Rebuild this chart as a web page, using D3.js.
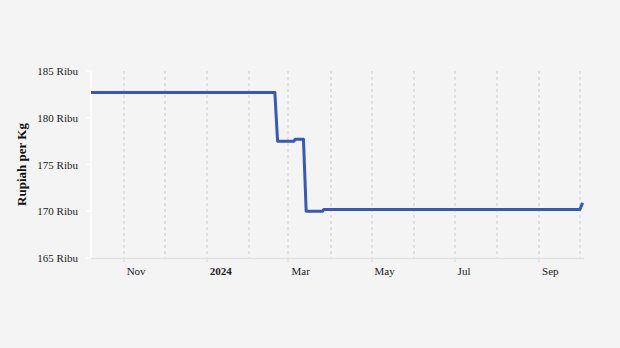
<!DOCTYPE html>
<html><head><meta charset="utf-8">
<script src="https://cdn.jsdelivr.net/npm/d3@7"></script>
<style>body{margin:0;background:#f4f4f4}svg{display:block}</style>
</head><body><svg id="c" width="620" height="348"></svg>
<script>
const dates = ["2023-10-08","2024-02-20","2024-02-22","2024-03-05","2024-03-06","2024-03-12","2024-03-14","2024-03-26","2024-03-27","2024-10-01","2024-10-03"];
const prices = [182.7,182.7,177.5,177.5,177.7,177.7,170.0,170.0,170.2,170.2,170.9];
const yTicks = [165,170,175,180,185];
const xDomain = ["2023-10-08","2024-10-04"];
const yLabel = "Rupiah per Kg";

const parse = d3.utcParse("%Y-%m-%d");
const data = dates.map((d,i)=>({date:parse(d), v:prices[i]}));
const svg = d3.select("#c");
svg.append("rect").attr("width",620).attr("height",348).attr("fill","#f4f4f4");
const L=91,R=584,T=71,B=258;
const x = d3.scaleUtc().domain(xDomain.map(parse)).range([L,R]);
const y = d3.scaleLinear().domain([165,185]).range([B,T]);
const font = "'Liberation Serif','Times New Roman',serif";

const months = d3.utcMonth.range(parse("2023-11-01"), parse("2024-10-02"));
// gridlines
svg.append("g").selectAll("line").data(months).join("line")
  .attr("x1",d=>Math.round(x(d))).attr("x2",d=>Math.round(x(d)))
  .attr("y1",T).attr("y2",B)
  .attr("stroke","#e0e0e0").attr("stroke-width",2).attr("stroke-dasharray","3,3");
// x axis line
svg.append("line").attr("x1",L).attr("x2",R).attr("y1",B+0.5).attr("y2",B+0.5)
  .attr("stroke","#e2e2e2").attr("stroke-width",1.5);
const labeled = months.filter((d,i)=>i%2===0);
svg.append("g").selectAll("line").data(labeled).join("line")
  .attr("x1",d=>Math.round(x(d))).attr("x2",d=>Math.round(x(d)))
  .attr("y1",B).attr("y2",B+4).attr("stroke","#e2e2e2").attr("stroke-width",1.5);
svg.append("g").selectAll("text").data(labeled).join("text")
  .attr("x",d=>x(d)+3).attr("y",B+17)
  .attr("font-family",font).attr("font-size",11).attr("fill","#222")
  .attr("font-weight",d=>d.getUTCMonth()===0?"bold":"normal")
  .text(d=>d.getUTCMonth()===0?d3.utcFormat("%Y")(d):d3.utcFormat("%b")(d));
// y axis
svg.append("line").attr("x1",L).attr("x2",L).attr("y1",T).attr("y2",B)
  .attr("stroke","#fff").attr("stroke-width",1.5);
svg.append("g").selectAll("line").data(yTicks).join("line")
  .attr("x1",L-5).attr("x2",L).attr("y1",d=>y(d)).attr("y2",d=>y(d))
  .attr("stroke","#fff").attr("stroke-width",1.5);
svg.append("g").selectAll("text").data(yTicks).join("text")
  .attr("x",L-13).attr("y",d=>y(d)+4).attr("text-anchor","end")
  .attr("font-family",font).attr("font-size",11).attr("fill","#222")
  .text(d=>d+" Ribu");
svg.append("text").attr("transform",`translate(26,${(T+B)/2}) rotate(-90)`)
  .attr("text-anchor","middle").attr("font-family",font).attr("font-size",13)
  .attr("font-weight","bold").attr("fill","#111").text(yLabel);
// line
svg.append("path").datum(data)
  .attr("d",d3.line().x(d=>x(d.date)).y(d=>y(d.v)))
  .attr("fill","none").attr("stroke","#3558bd").attr("stroke-width",3)
  .attr("stroke-linejoin","round");
</script></body></html>
